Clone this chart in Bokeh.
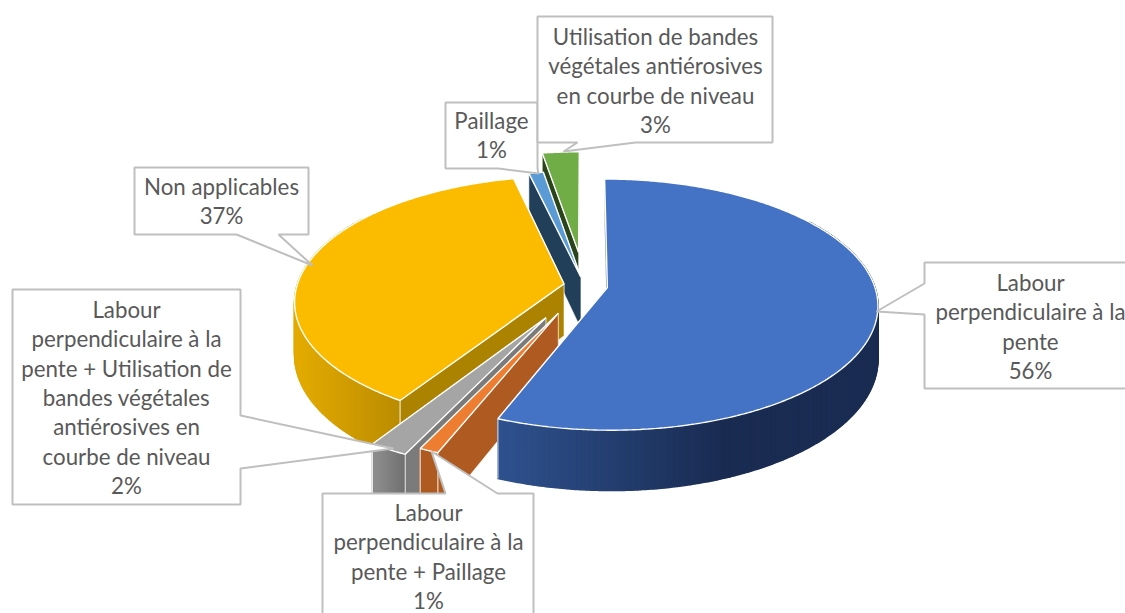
import numpy as np
from bokeh.core.properties import value
from bokeh.embed import file_html
from bokeh.models import ColumnDataSource
from bokeh.plotting import figure
from bokeh.resources import INLINE

# ---- data -------------------------------------------------------------
categories = [
    "Labour perpendiculaire à la pente",
    "Labour perpendiculaire à la pente + Paillage",
    "Labour perpendiculaire à la pente + Utilisation de bandes végétales antiérosives en courbe de niveau",
    "Non applicables",
    "Paillage",
    "Utilisation de bandes végétales antiérosives en courbe de niveau",
]
shares = [56.0, 1.0, 2.0, 37.4, 1.0, 2.6]
wrapped = [
    ["Labour", "perpendiculaire à la", "pente"],
    ["Labour", "perpendiculaire à la", "pente + Paillage"],
    ["Labour", "perpendiculaire à la", "pente + Utilisation de", "bandes végétales",
     "antiérosives en", "courbe de niveau"],
    ["Non applicables"],
    ["Paillage"],
    ["Utilisation de bandes", "végétales antiérosives", "en courbe de niveau"],
]

# ---- style -------------------------------------------------------------
top_colors = ["#4472C4", "#ED7D31", "#A5A5A5", "#FBBC00", "#5B9BD5", "#70AD47"]
wall_left = [(47, 82, 143), (174, 90, 33), (140, 140, 140), (226, 170, 0), (34, 63, 89), (42, 69, 26)]
wall_right = [(26, 44, 82), (174, 90, 33), (112, 112, 112), (186, 140, 0), (34, 63, 89), (42, 69, 26)]
wall_span = [(497, 720), (415, 440), (376, 404), (300, 400), (520, 550), (540, 580)]
cut_colors = ["#1E3560", "#AE5A21", "#7B7B7B", "#AB8300", "#223F59", "#2A451A"]
explode = [0.087, 0.24, 0.29, 0.078, 0.07, 0.28]
order = [5, 4, 3, 2, 1, 0]

CX, CY = 584.0, 285.0
R, Q, K, DEPTH = 267.0, 122.7, 0.136, 52.0

boxes = [  # outline of each callout in page pixels
    [(924, 262), (1180, 262), (1180, 388), (924, 388), (924, 314), (876, 311), (924, 283)],
    [(322, 493), (445, 493), (431, 451), (497, 493), (533, 493), (533, 660), (322, 660)],
    [(12, 289), (240, 289), (240, 415), (393, 448), (240, 468), (240, 504), (12, 504)],
    [(134, 167), (308, 167), (308, 234), (278, 234), (312, 265), (236, 234), (134, 234)],
    [(445, 102), (537, 102), (537, 168), (538, 173), (498, 168), (445, 168)],
    [(537, 16), (772, 16), (772, 142), (635, 142), (563, 151), (577, 142), (537, 142)],
]
text_x = [1030, 428, 126, 221, 491, 655]
text_y0 = [282, 512, 309, 186, 120, 36]
LINE = 29.3
TEXT_COLOR = "#595959"
FONT = "Lato"


def project(u, v, lift=0.0):
    s = 1.0 / (1.0 - K * v)
    return CX + R * u * s, CY + Q * v * s + DEPTH * s * lift


def hexc(c):
    return "#%02x%02x%02x" % tuple(int(round(x)) for x in c)


p = figure(width=1125, height=613, x_range=(0, 1125), y_range=(613, 0),
           output_backend="svg", toolbar_location=None, min_border=0)
p.axis.visible = False
p.grid.visible = False
p.outline_line_color = None
p.background_fill_color = "white"
p.border_fill_color = "white"

bounds = np.cumsum([0.0] + shares) * 3.6
for i in order:
    a0, a1 = np.radians(bounds[i]), np.radians(bounds[i + 1])
    mid = (a0 + a1) / 2
    ou, ov = explode[i] * np.sin(mid), -explode[i] * np.cos(mid)
    n = max(4, int((bounds[i + 1] - bounds[i]) * 2))
    th = np.linspace(a0, a1, n + 1)
    ru, rv = ou + np.sin(th), ov - np.cos(th)

    tx, ty = project(ru, rv)
    bx, by = project(ru, rv, 1.0)
    ax, ay = project(np.array([ou]), np.array([ov]))
    abx, aby = project(np.array([ou]), np.array([ov]), 1.0)

    # cut faces first, so that a face turned away is covered by the slice itself
    for j in (n, 0):
        p.patch([ax[0], tx[j], bx[j], abx[0]], [ay[0], ty[j], by[j], aby[0]],
                fill_color=cut_colors[i], line_color="white", line_width=0.8, line_alpha=0.7)

    # outer wall, shaded strip by strip; strips at the back are hidden anyway
    lo, hi = wall_span[i]
    xs, ys, cols = [], [], []
    for j in range(n):
        if rv[j] < 0 and rv[j + 1] < 0 and abs(ru[j]) < 0.9:
            continue
        xs.append([tx[j], tx[j + 1], bx[j + 1], bx[j]])
        ys.append([ty[j], ty[j + 1], by[j + 1], by[j]])
        t = np.clip(((tx[j] + tx[j + 1]) / 2 - lo) / (hi - lo), 0, 1)
        cols.append(hexc([wall_left[i][k] + (wall_right[i][k] - wall_left[i][k]) * t for k in range(3)]))
    if xs:
        p.patches(xs, ys, fill_color=cols, line_color=cols, line_width=1.5)

    # pale edge where the outer wall meets a cut face, on the viewer's side only
    for j in (n, 0):
        if rv[j] > 0:
            p.line([tx[j], bx[j]], [ty[j], by[j]], line_color="white", line_width=1.1, line_alpha=0.8)

    # top face
    p.patch(np.r_[ax, tx], np.r_[ay, ty], fill_color=top_colors[i], line_color="white", line_width=1.4)

# callouts
src = ColumnDataSource(dict(x=[[pt[0] for pt in b] for b in boxes], y=[[pt[1] for pt in b] for b in boxes]))
p.patches("x", "y", source=src, fill_color="white", line_color="#BFBFBF", line_width=2)

tx, ty, tt = [], [], []
for i, lines in enumerate(wrapped):
    rows = lines + [f"{round(shares[i])}%"]
    for r, row in enumerate(rows):
        tx.append(text_x[i])
        ty.append(text_y0[i] + r * LINE)
        tt.append(row)
p.text(tx, ty, text=tt, text_align="center", text_baseline="middle",
       text_font=value(FONT), text_font_size="22.3px", text_color=TEXT_COLOR)

open("out.html", "w").write(file_html(p, INLINE))
